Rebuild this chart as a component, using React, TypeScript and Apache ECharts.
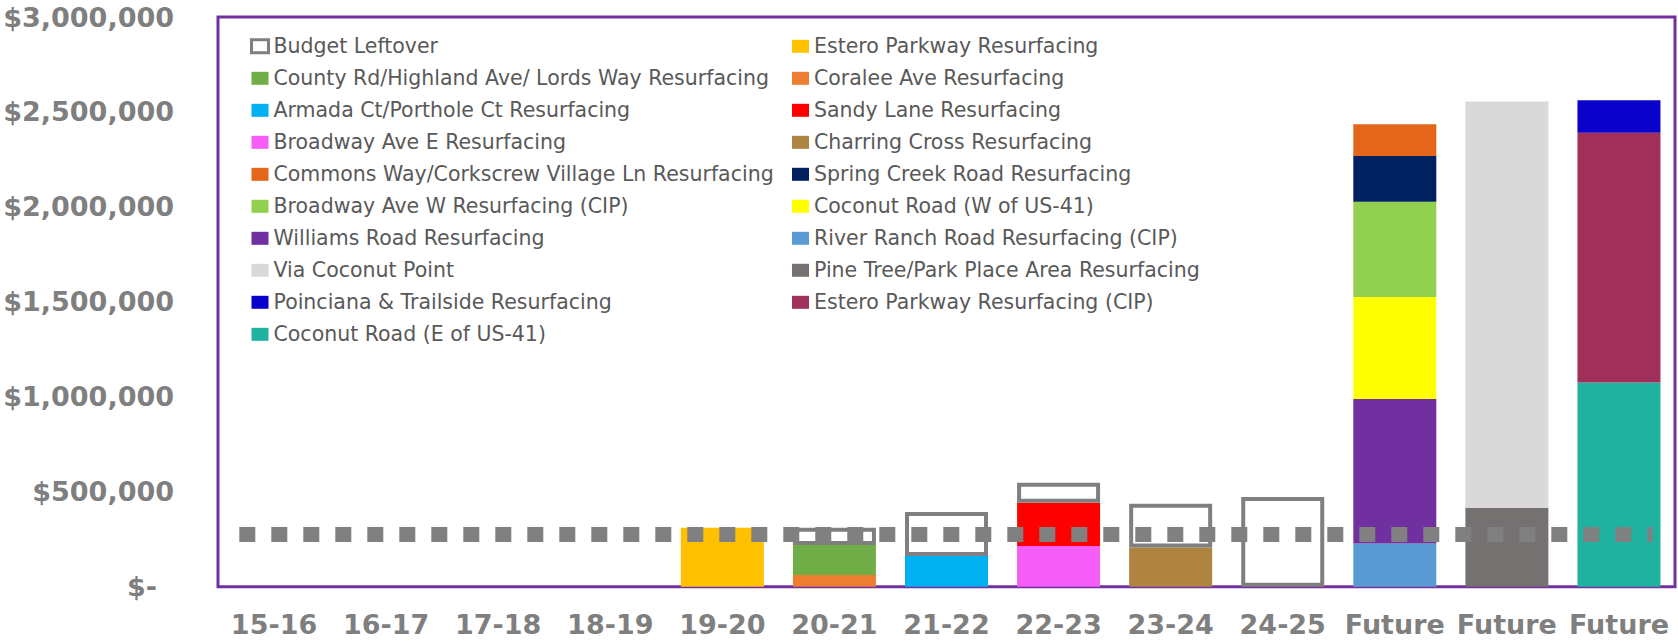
import React, { useEffect, useRef } from 'react';
import * as echarts from 'echarts';

const N = null;

const categories = ['15-16', '16-17', '17-18', '18-19', '19-20', '20-21', '21-22', '22-23', '23-24', '24-25', 'Future', 'Future', 'Future'];

const yTicks = { min: 0, max: 3000000, interval: 500000 };
const budgetCap = 275000;
// extent of the dotted budget line, in category units (0 = left edge of the plot, 13 = right edge)
const budgetLineX = [0.19, 12.8];

const coraleeAve = [N, N, N, N, N, 62000, N, N, N, N, N, N, N];
const countyRd = [N, N, N, N, N, 158000, N, N, N, N, N, N, N];
const esteroPkwy = [N, N, N, N, 310000, N, N, N, N, N, N, N, N];
const armadaCt = [N, N, N, N, N, N, 162000, N, N, N, N, N, N];
const broadwayE = [N, N, N, N, N, N, N, 214000, N, N, N, N, N];
const sandyLane = [N, N, N, N, N, N, N, 228000, N, N, N, N, N];
const charringCross = [N, N, N, N, N, N, N, N, 207000, N, N, N, N];
const riverRanch = [N, N, N, N, N, N, N, N, N, N, 228000, N, N];
const williamsRd = [N, N, N, N, N, N, N, N, N, N, 760000, N, N];
const coconutRdW = [N, N, N, N, N, N, N, N, N, N, 538000, N, N];
const broadwayW = [N, N, N, N, N, N, N, N, N, N, 501000, N, N];
const springCreek = [N, N, N, N, N, N, N, N, N, N, 241000, N, N];
const commonsWay = [N, N, N, N, N, N, N, N, N, N, 167000, N, N];
const pineTree = [N, N, N, N, N, N, N, N, N, N, N, 416000, N];
const viaCoconut = [N, N, N, N, N, N, N, N, N, N, N, 2139000, N];
const coconutRdE = [N, N, N, N, N, N, N, N, N, N, N, N, 1075000];
const esteroPkwyCIP = [N, N, N, N, N, N, N, N, N, N, N, N, 1315000];
const poinciana = [N, N, N, N, N, N, N, N, N, N, N, N, 172000];
const budgetLeftover = [N, N, N, N, N, 90000, 232000, 105000, 230000, 473000, N, N, N];

const legendLeft = [
  'Budget Leftover',
  'County Rd/Highland Ave/ Lords Way Resurfacing',
  'Armada Ct/Porthole Ct Resurfacing',
  'Broadway Ave E Resurfacing',
  'Commons Way/Corkscrew Village Ln Resurfacing',
  'Broadway Ave W Resurfacing (CIP)',
  'Williams Road Resurfacing',
  'Via Coconut Point',
  'Poinciana & Trailside Resurfacing',
  'Coconut Road (E of US-41)',
];
const legendRight = [
  'Estero Parkway Resurfacing',
  'Coralee Ave Resurfacing',
  'Sandy Lane Resurfacing',
  'Charring Cross Resurfacing',
  'Spring Creek Road Resurfacing',
  'Coconut Road (W of US-41)',
  'River Ranch Road Resurfacing (CIP)',
  'Pine Tree/Park Place Area Resurfacing',
  'Estero Parkway Resurfacing (CIP)',
];

// stacking order (bottom to top)
const projectSeries: [string, (number | null)[], string][] = [
  ['Coralee Ave Resurfacing', coraleeAve, '#ED7D31'],
  ['County Rd/Highland Ave/ Lords Way Resurfacing', countyRd, '#70AD47'],
  ['Estero Parkway Resurfacing', esteroPkwy, '#FFC000'],
  ['Armada Ct/Porthole Ct Resurfacing', armadaCt, '#00B0F0'],
  ['Broadway Ave E Resurfacing', broadwayE, '#F75EF7'],
  ['Sandy Lane Resurfacing', sandyLane, '#FF0000'],
  ['Charring Cross Resurfacing', charringCross, '#AE8440'],
  ['River Ranch Road Resurfacing (CIP)', riverRanch, '#5B9BD5'],
  ['Williams Road Resurfacing', williamsRd, '#7030A0'],
  ['Coconut Road (W of US-41)', coconutRdW, '#FFFF00'],
  ['Broadway Ave W Resurfacing (CIP)', broadwayW, '#92D050'],
  ['Spring Creek Road Resurfacing', springCreek, '#002060'],
  ['Commons Way/Corkscrew Village Ln Resurfacing', commonsWay, '#E4661A'],
  ['Pine Tree/Park Place Area Resurfacing', pineTree, '#767171'],
  ['Via Coconut Point', viaCoconut, '#D9D9D9'],
  ['Coconut Road (E of US-41)', coconutRdE, '#20B2A0'],
  ['Estero Parkway Resurfacing (CIP)', esteroPkwyCIP, '#A0305A'],
  ['Poinciana & Trailside Resurfacing', poinciana, '#0A00CC'],
];

const FONT = 'DejaVu Sans';
const GRAY = '#7f7f7f';

function buildOption() {
  const series: any[] = projectSeries.map(([name, data, color]) => ({
    type: 'bar',
    name,
    stack: 'total',
    barWidth: 83,
    data,
    itemStyle: { color },
    emphasis: { disabled: true },
  }));
  series.push({
    type: 'bar',
    name: 'Budget Leftover',
    stack: 'total',
    barWidth: 83,
    data: budgetLeftover,
    itemStyle: { color: '#ffffff', borderColor: GRAY, borderWidth: 4 },
    emphasis: { disabled: true },
  });
  series.push({
    type: 'line',
    name: 'Budget',
    xAxisIndex: 1,
    data: budgetLineX.map((x) => [x, budgetCap]),
    symbol: 'none',
    silent: true,
    z: 10,
    lineStyle: { color: '#808080', width: 15, type: [16, 16], cap: 'butt' },
    emphasis: { disabled: true },
  });

  const legendCommon = {
    orient: 'vertical',
    icon: 'rect',
    itemWidth: 17,
    itemHeight: 13,
    itemGap: 11,
    padding: 0,
    selectedMode: false,
    textStyle: { color: '#595959', fontFamily: FONT, fontSize: 20.5, lineHeight: 21 },
  };

  return {
    animation: false,
    backgroundColor: '#ffffff',
    grid: {
      left: 218,
      right: 3,
      top: 17,
      bottom: 54.3,
      show: true,
      borderColor: '#7030A0',
      borderWidth: 3,
      backgroundColor: 'transparent',
    },
    legend: [
      {
        ...legendCommon,
        left: 250,
        top: 35.8,
        data: legendLeft.map((name, i) => (i === 0 ? { name, itemStyle: { borderWidth: 3 } } : name)),
      },
      { ...legendCommon, left: 792, top: 35.8, data: legendRight },
    ],
    xAxis: [
      {
        type: 'category',
        data: categories,
        axisLine: { show: false },
        axisTick: { show: false },
        axisLabel: {
          interval: 0,
          color: GRAY,
          fontFamily: FONT,
          fontWeight: 'bold',
          fontSize: 27,
          lineHeight: 30,
          margin: 23,
        },
      },
      {
        type: 'value',
        show: false,
        min: 0,
        max: categories.length,
        splitLine: { show: false },
      },
    ],
    yAxis: {
      type: 'value',
      min: yTicks.min,
      max: yTicks.max,
      interval: yTicks.interval,
      splitLine: { show: false },
      axisLine: { show: false },
      axisTick: { show: false },
      axisLabel: {
        margin: 44,
        color: GRAY,
        fontFamily: FONT,
        fontWeight: 'bold',
        fontSize: 27,
        formatter: (v: number) => (v === 0 ? '{z|$-}' : '$' + v.toLocaleString('en-US')),
        rich: {
          z: { color: GRAY, fontFamily: FONT, fontWeight: 'bold', fontSize: 27, padding: [0, 17, 0, 0] },
        },
      },
    },
    series,
  };
}

export default function App() {
  const ref = useRef<HTMLDivElement>(null);
  useEffect(() => {
    if (!ref.current) return;
    const chart = echarts.init(ref.current, null, { renderer: 'svg' });
    chart.setOption(buildOption() as any);
    return () => chart.dispose();
  }, []);
  return (
    <div
      ref={ref}
      style={{ position: 'fixed', left: 0, top: 0, width: 1678, height: 641, background: '#ffffff' }}
    />
  );
}
